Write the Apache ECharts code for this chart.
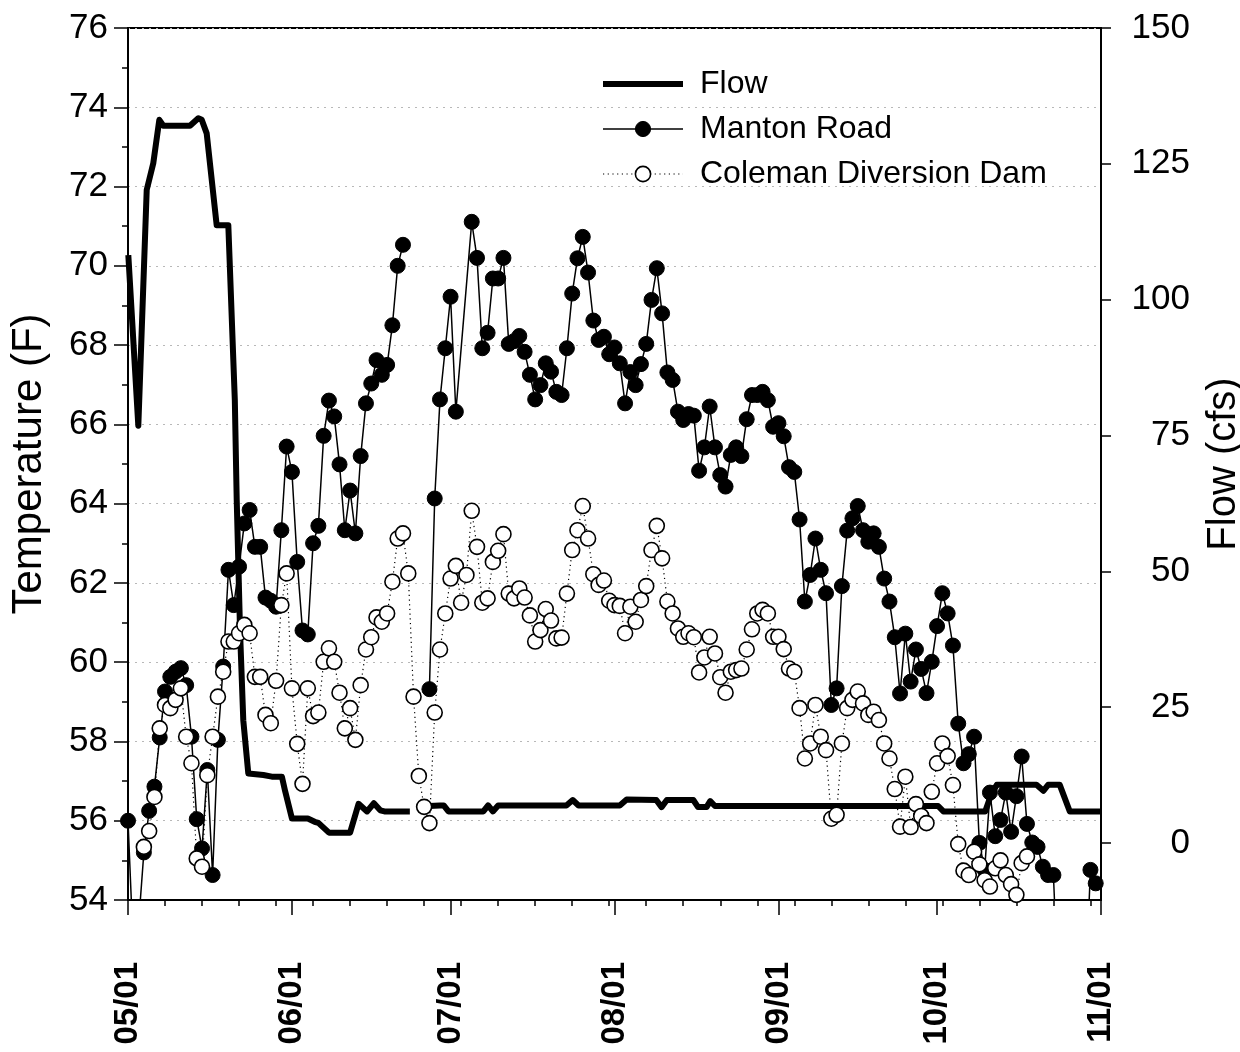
<!DOCTYPE html>
<html>
<head>
<meta charset="utf-8">
<script src="https://cdn.jsdelivr.net/npm/echarts@6/dist/echarts.min.js"></script>
<style>
html,body{margin:0;padding:0;background:#fff;}
#chart{width:1240px;height:1052px;}
</style>
</head>
<body>
<div id="chart"></div>
<script>
// ---- tick labels / axes ----
const monthLabels = ['05/01','06/01','07/01','08/01','09/01','10/01','11/01'];
const monthDays   = [0,31,61,92,123,153,184];           // days since 05/01
const weekDays    = [0,7,14,21,28,35,42,49,56,63,70,77,84,91,98,105,112,119,126,133,140,147,154,161,168,175,182];
const flowTicks   = [0,25,50,75,100,125,150];

// ---- data: index = day since 05/01 ; null = no reading (skipped), '-' = line break ----
const BRK = '-';
const mantonRoad = [
 56.0,52.8,53.4,55.2,56.25,56.86,58.1,59.26,59.63,59.76,
 59.85,59.42,58.12,56.04,55.3,57.28,54.63,58.04,59.89,62.33,
 61.44,62.41,63.5,63.84,62.91,62.91,61.63,61.55,61.4,63.33,
 65.44,64.8,62.53,60.8,60.7,63.0,63.44,65.71,66.6,66.2,
 64.99,63.33,64.33,63.25,65.2,66.53,67.03,67.62,67.25,67.5,
 68.5,70.0,70.53,BRK,null,null,null,59.32,64.13,66.63,
 67.92,69.22,66.32,null,null,71.11,70.2,67.92,68.31,69.68,
 69.68,70.2,68.03,68.1,68.23,67.83,67.25,66.63,66.99,67.54,
 67.33,66.82,66.74,67.92,69.3,70.19,70.73,69.83,68.62,68.13,
 68.21,67.77,67.94,67.54,66.53,67.32,66.99,67.52,68.03,69.14,
 69.94,68.8,67.31,67.12,66.32,66.11,66.26,66.22,64.83,65.42,
 66.45,65.42,64.72,64.43,65.23,65.42,65.2,66.13,66.74,66.74,
 66.82,66.61,65.94,66.03,65.7,64.92,64.8,63.6,61.53,62.2,
 63.12,62.33,61.74,58.92,59.34,61.92,63.32,63.63,63.94,63.33,
 63.04,63.25,62.91,62.11,61.53,60.63,59.21,60.72,59.51,60.32,
 59.83,59.22,60.01,60.91,61.74,61.23,60.42,58.45,57.45,57.68,
 58.12,55.44,54.76,56.71,55.61,56.02,56.71,55.72,56.62,57.62,
 55.92,55.45,55.34,54.84,54.63,54.63,51.5,51.5,51.5,51.5,
 51.5,51.5,54.76,54.42
];
const colemanDam = [
 null,null,null,55.34,55.74,56.6,58.33,58.92,58.84,59.05,
 59.34,58.12,57.45,55.05,54.84,57.15,58.12,59.13,59.76,60.52,
 60.52,60.73,60.94,60.73,59.63,59.63,58.67,58.46,59.53,61.44,
 62.24,59.34,57.94,56.93,59.34,58.64,58.73,60.01,60.35,60.01,
 59.23,58.33,58.84,58.04,59.42,60.32,60.63,61.13,61.02,61.23,
 62.03,63.12,63.25,62.24,59.13,57.13,56.35,55.94,58.73,60.32,
 61.23,62.11,62.43,61.5,62.2,63.82,62.91,61.5,61.61,62.53,
 62.81,63.23,61.73,61.61,61.86,61.63,61.18,60.52,60.81,61.34,
 61.05,60.6,60.62,61.73,62.83,63.33,63.94,63.12,62.22,61.95,
 62.06,61.55,61.44,61.42,60.73,61.4,61.02,61.57,61.92,62.83,
 63.44,62.62,61.53,61.23,60.85,60.64,60.73,60.63,59.74,60.12,
 60.64,60.22,59.62,59.23,59.76,59.8,59.84,60.32,60.83,61.23,
 61.32,61.23,60.64,60.64,60.33,59.84,59.76,58.84,57.57,57.95,
 58.92,58.12,57.78,56.05,56.15,57.95,58.84,59.05,59.26,58.96,
 58.67,58.75,58.54,57.95,57.57,56.8,55.85,57.11,55.84,56.42,
 56.12,55.94,56.73,57.45,57.95,57.63,56.9,55.41,54.74,54.63,
 55.22,54.9,54.5,54.34,54.8,55.0,54.63,54.4,54.13,54.93,
 55.1
];
// flow: [day since 05/01, cfs]
const flowDays = [0.06,1.95,3.54,4.78,5.92,6.68,11.72,13.29,13.94,14.88,16.77,18.97,20.2,20.56,21.2,21.8,22.75,25.6,27.2,29.1,29.7,31.0,34.0,35.3,36.0,38.0,42.0,43.6,45.2,46.5,47.7,48.5,53.3,53.6,
                  54.9,59.0,59.7,60.6,67.2,68.1,69.0,70.0,82.9,84.1,85.2,93.0,94.3,99.9,100.9,101.9,106.9,107.8,109.4,110.1,111.0,153.2,154.2,162.1,163.3,164.3,171.8,173.1,174.0,176.2,178.1,184];
const flowCfs  = [108.2,76.8,120.2,125.1,133.1,132.0,132.0,133.4,133.1,130.6,113.7,113.7,81.5,63.1,38.6,22.6,12.8,12.5,12.2,12.2,9.6,4.5,4.5,3.9,3.7,1.9,1.9,7.2,5.8,7.3,6.0,5.8,5.8,BRK,
                  6.7,6.9,6.9,5.8,5.8,6.9,5.8,6.9,6.9,7.9,6.9,6.9,8.0,7.9,6.6,7.9,7.9,6.6,6.6,7.7,6.8,6.8,5.8,5.8,9.1,10.7,10.7,9.6,10.7,10.7,5.8,5.8];

function toPairs(arr){
  const out=[];
  arr.forEach((v,i)=>{ if(v!==null) out.push([i,v]); });
  return out;
}
const flowData = flowDays.map((d,i)=>[d, flowCfs[i]]);

const FONT = 'Liberation Sans, Arial, sans-serif';
const chart = echarts.init(document.getElementById('chart'), null, {renderer:'canvas'});
chart.setOption({
  animation:false,
  backgroundColor:'#fff',
  grid:{left:128,right:139,top:28,bottom:152,outerBoundsMode:'none',containLabel:false,
        show:true,borderColor:'#000',borderWidth:2,backgroundColor:'transparent'},
  legend:{
    orient:'vertical', left:595, top:63, itemWidth:80, itemHeight:19, itemGap:13,
    textStyle:{fontFamily:FONT,fontSize:32,color:'#000',padding:[0,0,0,12]},
    data:[
      {name:'Flow', lineStyle:{color:'#000',width:6,type:'solid'}, itemStyle:{color:'rgba(0,0,0,0)',borderWidth:0}},
      {name:'Manton Road', lineStyle:{color:'#000',width:1.5,type:'solid'}, itemStyle:{color:'#000',borderColor:'#000',borderWidth:1}},
      {name:'Coleman Diversion Dam', lineStyle:{color:'#000',width:1.2,type:[1.2,3.5]}, itemStyle:{color:'#fff',borderColor:'#000',borderWidth:1.6}}
    ]
  },
  xAxis:[{
    type:'value', min:0, max:184, position:'bottom',
    axisLine:{show:true,onZero:false,lineStyle:{color:'#000',width:2}},
    axisTick:{show:true,inside:false,length:15,customValues:monthDays,lineStyle:{color:'#000',width:1.5}},
    axisLabel:{show:true,customValues:monthDays,rotate:90,margin:62,fontFamily:FONT,fontSize:33,fontWeight:'bold',color:'#000',
      formatter:(v)=>{const k=monthDays.indexOf(Math.round(v));return k>=0?monthLabels[k]:'';}},
    splitLine:{show:false}
  },{
    type:'value', min:0, max:184, position:'bottom',
    axisLine:{show:false,onZero:false},
    axisTick:{show:true,inside:false,length:6,customValues:weekDays,lineStyle:{color:'#000',width:1.5}},
    axisLabel:{show:false},
    splitLine:{show:false}
  }],
  yAxis:[{
    type:'value', min:54, max:76, interval:2, position:'left',
    axisLine:{show:true,onZero:false,lineStyle:{color:'#000',width:2}},
    axisTick:{show:true,inside:false,length:14,lineStyle:{color:'#000',width:1.5}},
    minorTick:{show:true,splitNumber:2,length:6,lineStyle:{color:'#000',width:1.5}},
    axisLabel:{margin:20,fontFamily:FONT,fontSize:35,color:'#000'},
    splitLine:{show:true,lineStyle:{color:'#b8b8b8',type:[2,5],width:1}},
    name:'Temperature (F)', nameLocation:'middle', nameGap:78, nameRotate:90,
    nameTextStyle:{fontFamily:FONT,fontSize:42,color:'#000',verticalAlign:'bottom'}
  },{
    type:'value', min:-10.5, max:150, position:'right',
    axisLine:{show:true,onZero:false,lineStyle:{color:'#000',width:2}},
    axisTick:{show:true,inside:false,length:10,customValues:flowTicks,lineStyle:{color:'#000',width:1.5}},
    axisLabel:{customValues:flowTicks,margin:89,align:'right',fontFamily:FONT,fontSize:35,color:'#000'},
    splitLine:{show:false},
    name:'Flow (cfs)', nameLocation:'middle', nameGap:103, nameRotate:90,
    nameTextStyle:{fontFamily:FONT,fontSize:40,color:'#000',verticalAlign:'top'}
  }],
  series:[{
    name:'Flow', type:'line', xAxisIndex:0, yAxisIndex:1, data:flowData,
    symbol:'none', clip:true, z:2,
    lineStyle:{color:'#000',width:6,join:'round'}, itemStyle:{color:'#000'}
  },{
    name:'Manton Road', type:'line', xAxisIndex:0, yAxisIndex:0, data:toPairs(mantonRoad),
    symbol:'circle', symbolSize:15, clip:true, z:3, connectNulls:false,
    lineStyle:{color:'#000',width:1.5}, itemStyle:{color:'#000',borderColor:'#000',borderWidth:1}
  },{
    name:'Coleman Diversion Dam', type:'line', xAxisIndex:0, yAxisIndex:0, data:toPairs(colemanDam),
    symbol:'circle', symbolSize:15, clip:true, z:4,
    lineStyle:{color:'#000',width:1.2,type:[1.2,3.5]}, itemStyle:{color:'#fff',borderColor:'#000',borderWidth:1.6}
  }]
});
</script>
</body>
</html>
